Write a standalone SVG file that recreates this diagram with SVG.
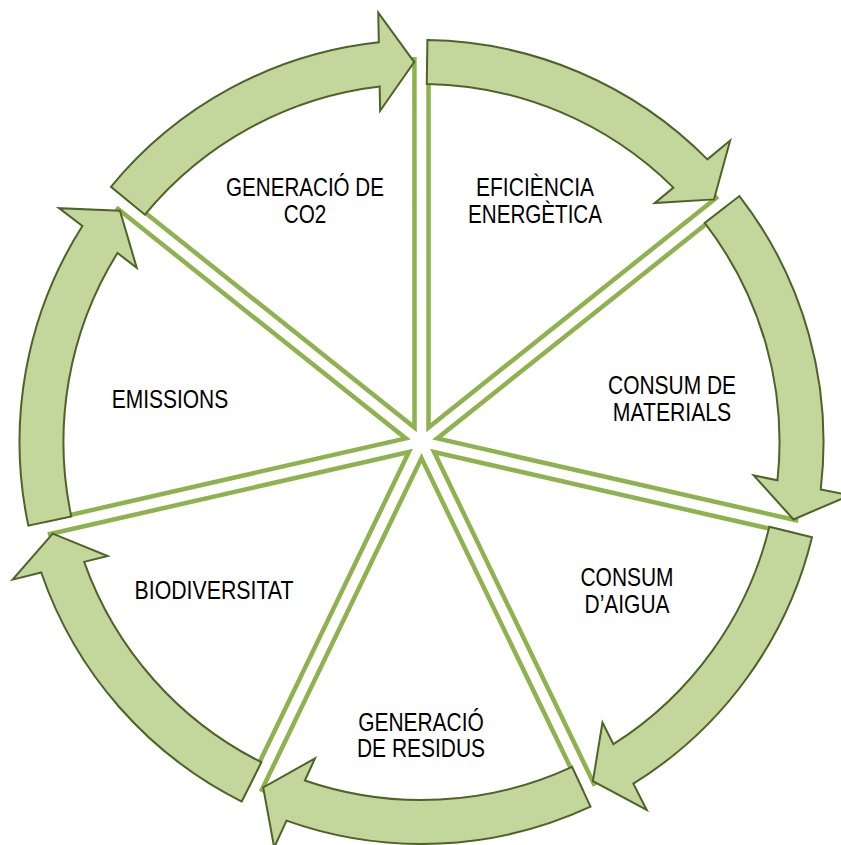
<svg xmlns="http://www.w3.org/2000/svg" width="841" height="845" viewBox="0 0 841 845">
<style>
.wedge{fill:none;stroke:#8DB24E;stroke-width:4.5;stroke-linejoin:miter;stroke-miterlimit:10}
.arrow{fill:#C3D69B;stroke:#4F6228;stroke-width:2;stroke-linejoin:miter}
.lbl{font-family:"Liberation Sans",Arial,sans-serif;font-size:25.5px;fill:#000;text-anchor:middle}
</style>
<defs>
<path id="wedge" class="wedge" d="M7,-384.9 L7,-14.5 L296.5,-245.5"/>
<path id="arr" class="arrow" d="M261.1,-305.6 A402,402 0 0 1 400.5,-35 L430,-35 L380,0 L332,-35 L356.3,-35 A358,358 0 0 0 232.6,-272.2 Z"/>
</defs>
<rect width="841" height="845" fill="#fff"/>
<g id="node-eficiencia">
<use href="#wedge" transform="translate(421.5,442) rotate(0)"/>
<text class="lbl" x="535" y="196" textLength="118" lengthAdjust="spacingAndGlyphs">EFICIÈNCIA</text>
<text class="lbl" x="535" y="222.5" textLength="134" lengthAdjust="spacingAndGlyphs">ENERGÈTICA</text>
</g>
<g id="node-materials">
<use href="#wedge" transform="translate(421.5,442) rotate(51.4286)"/>
<text class="lbl" x="672" y="394" textLength="128" lengthAdjust="spacingAndGlyphs">CONSUM DE</text>
<text class="lbl" x="672" y="421" textLength="118.5" lengthAdjust="spacingAndGlyphs">MATERIALS</text>
</g>
<g id="node-aigua">
<use href="#wedge" transform="translate(421.5,442) rotate(102.857)"/>
<text class="lbl" x="627" y="586" textLength="93" lengthAdjust="spacingAndGlyphs">CONSUM</text>
<text class="lbl" x="627" y="613" textLength="85" lengthAdjust="spacingAndGlyphs">D’AIGUA</text>
</g>
<g id="node-residus">
<use href="#wedge" transform="translate(421.5,442) rotate(154.286)"/>
<text class="lbl" x="421" y="731" textLength="125.5" lengthAdjust="spacingAndGlyphs">GENERACIÓ</text>
<text class="lbl" x="421" y="757" textLength="128" lengthAdjust="spacingAndGlyphs">DE RESIDUS</text>
</g>
<g id="node-biodiversitat">
<use href="#wedge" transform="translate(421.5,442) rotate(205.714)"/>
<text class="lbl" x="214" y="599" textLength="159" lengthAdjust="spacingAndGlyphs">BIODIVERSITAT</text>
</g>
<g id="node-emissions">
<use href="#wedge" transform="translate(421.5,442) rotate(257.143)"/>
<text class="lbl" x="170" y="408" textLength="116.5" lengthAdjust="spacingAndGlyphs">EMISSIONS</text>
</g>
<g id="node-co2">
<use href="#wedge" transform="translate(421.5,442) rotate(308.571)"/>
<text class="lbl" x="305" y="196" textLength="158" lengthAdjust="spacingAndGlyphs">GENERACIÓ DE</text>
<text class="lbl" x="305" y="222.5" textLength="42.5" lengthAdjust="spacingAndGlyphs">CO2</text>
</g>
<g id="connectors">
<use href="#arr" transform="translate(421.5,442) rotate(320.33)"/>
<use href="#arr" transform="translate(421.5,442) rotate(11.76)"/>
<use href="#arr" transform="translate(421.5,442) rotate(63.19)"/>
<use href="#arr" transform="translate(421.5,442) rotate(114.62)"/>
<use href="#arr" transform="translate(421.5,442) rotate(166.05)"/>
<use href="#arr" transform="translate(421.5,442) rotate(217.48)"/>
<use href="#arr" transform="translate(421.5,442) rotate(268.90)"/>
</g>
</svg>
